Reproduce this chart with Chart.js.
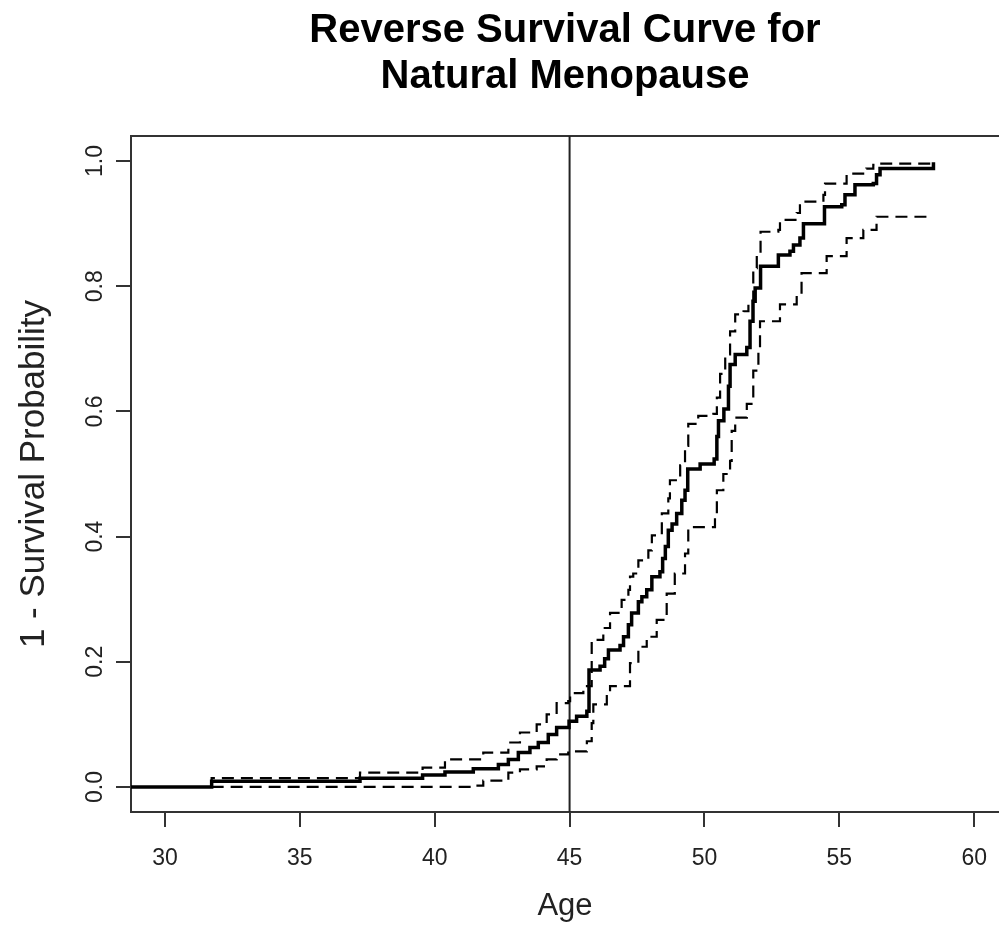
<!DOCTYPE html>
<html>
<head>
<meta charset="utf-8">
<script src="https://cdn.jsdelivr.net/npm/chart.js@4"></script>
<style>
  html, body { margin: 0; padding: 0; background: #fff; overflow: hidden; }
  #wrap { width: 999px; height: 933px; position: relative; }
</style>
</head>
<body>
<div id="wrap"><canvas id="km"></canvas></div>
<script>
// Kaplan-Meier style estimate (1 - S) and its confidence band
const ageEst = [28.74, 31.73, 37.23, 39.55, 40.38, 41.43, 42.36, 42.73, 43.10, 43.53, 43.84, 44.21, 44.52, 44.98, 45.26, 45.64, 45.72, 46.13, 46.30, 46.44, 46.87, 47.00, 47.18, 47.30, 47.55, 47.68, 47.86, 48.05, 48.35, 48.45, 48.55, 48.66, 48.80, 48.97, 49.16, 49.28, 49.38, 49.84, 50.36, 50.46, 50.52, 50.72, 50.89, 50.95, 51.14, 51.57, 51.69, 51.80, 51.88, 52.08, 52.74, 53.17, 53.30, 53.54, 53.67, 54.45, 55.09, 55.21, 55.58, 56.26, 56.38, 56.51, 58.49];
const probEst = [0, 0.009, 0.014, 0.019, 0.024, 0.029, 0.036, 0.044, 0.055, 0.063, 0.071, 0.084, 0.095, 0.105, 0.113, 0.121, 0.187, 0.193, 0.205, 0.219, 0.226, 0.240, 0.259, 0.278, 0.296, 0.304, 0.315, 0.336, 0.344, 0.365, 0.384, 0.410, 0.420, 0.437, 0.458, 0.474, 0.508, 0.516, 0.524, 0.560, 0.585, 0.604, 0.640, 0.675, 0.691, 0.702, 0.744, 0.776, 0.797, 0.832, 0.850, 0.856, 0.866, 0.877, 0.900, 0.927, 0.930, 0.946, 0.962, 0.964, 0.978, 0.988, 0.998];

const ageUpper = [31.73, 31.73, 37.23, 39.55, 40.38, 41.80, 42.73, 43.16, 43.78, 44.15, 44.52, 44.95, 45.02, 45.51, 45.82, 46.25, 46.50, 46.87, 46.93, 47.18, 47.24, 47.36, 47.55, 47.92, 48.05, 48.42, 48.66, 48.72, 49.10, 49.28, 49.40, 49.77, 50.33, 50.46, 50.58, 50.77, 50.95, 51.14, 51.45, 51.63, 51.81, 51.94, 52.08, 52.74, 52.80, 53.42, 53.54, 54.41, 54.47, 55.27, 56.00, 56.26, 56.51, 58.40];
const probUpper = [0, 0.014, 0.023, 0.031, 0.044, 0.055, 0.071, 0.087, 0.100, 0.116, 0.134, 0.137, 0.150, 0.161, 0.235, 0.254, 0.278, 0.283, 0.299, 0.315, 0.336, 0.341, 0.362, 0.378, 0.402, 0.437, 0.461, 0.490, 0.514, 0.545, 0.580, 0.593, 0.596, 0.622, 0.660, 0.691, 0.728, 0.755, 0.760, 0.776, 0.829, 0.850, 0.887, 0.890, 0.906, 0.917, 0.935, 0.946, 0.964, 0.980, 0.988, 0.994, 0.996, 0.996];

const ageLower = [31.73, 41.43, 41.80, 42.73, 43.16, 43.78, 44.15, 44.52, 44.95, 45.64, 45.82, 45.88, 46.38, 46.50, 47.24, 47.55, 47.86, 48.23, 48.60, 48.90, 49.28, 49.40, 50.39, 50.46, 50.70, 50.95, 51.01, 51.14, 51.57, 51.81, 52.00, 52.06, 52.80, 53.42, 53.60, 54.53, 55.27, 55.89, 56.38, 58.40];
const probLower = [0, 0.002, 0.010, 0.023, 0.028, 0.033, 0.044, 0.052, 0.057, 0.073, 0.102, 0.132, 0.145, 0.161, 0.198, 0.224, 0.240, 0.267, 0.309, 0.341, 0.373, 0.415, 0.431, 0.474, 0.500, 0.521, 0.569, 0.590, 0.612, 0.665, 0.697, 0.744, 0.771, 0.787, 0.821, 0.848, 0.877, 0.890, 0.911, 0.914];

const refAge = 45;
const xTicks = [30, 35, 40, 45, 50, 55, 60];
const yTicks = [0, 0.2, 0.4, 0.6, 0.8, 1.0];
const xMin = 28.74, xMax = 60.92;
const yMin = -0.04, yMax = 1.04;

const toPts = (xs, ys) => xs.map((x, i) => ({ x: x, y: ys[i] }));

const ink = '#222';
const fam = "'Liberation Sans', Arial, sans-serif";
const axisFont = { family: fam, size: 23 };

// R-style box: top and bottom rules (the right edge of the box is cut off)
const boxLines = {
  id: 'boxLines',
  beforeDatasetsDraw(chart) {
    const { ctx, chartArea } = chart;
    ctx.save();
    ctx.strokeStyle = '#333';
    ctx.lineWidth = 2;
    ctx.beginPath();
    ctx.moveTo(chartArea.left, chartArea.top);
    ctx.lineTo(chart.width, chartArea.top);
    ctx.moveTo(chartArea.left, chartArea.bottom);
    ctx.lineTo(chart.width, chartArea.bottom);
    ctx.stroke();
    ctx.restore();
  }
};

const kmChart = new Chart(document.getElementById('km').getContext('2d'), {
  type: 'line',
  data: {
    datasets: [{
      label: 'Estimate',
      data: toPts(ageEst, probEst),
      borderColor: '#000',
      borderWidth: 3.5,
      stepped: 'before',
      pointRadius: 0,
      fill: false
    }, {
      label: 'Upper',
      data: toPts(ageUpper, probUpper),
      borderColor: '#000',
      borderWidth: 2.2,
      borderDash: [12, 7],
      stepped: 'before',
      pointRadius: 0,
      fill: false
    }, {
      label: 'Lower',
      data: toPts(ageLower, probLower),
      borderColor: '#000',
      borderWidth: 2.2,
      borderDash: [12, 7],
      stepped: 'before',
      pointRadius: 0,
      fill: false
    }, {
      label: 'Age 45',
      data: [{ x: refAge, y: yMin }, { x: refAge, y: yMax }],
      borderColor: ink,
      borderWidth: 2,
      pointRadius: 0,
      fill: false
    }]
  },
  options: {
    responsive: true,
    maintainAspectRatio: false,
    animation: false,
    layout: { padding: 0 },
    scales: {
      x: {
        type: 'linear',
        min: xMin,
        max: xMax,
        afterBuildTicks: (s) => { s.ticks = xTicks.map(v => ({ value: v })); },
        afterFit: (s) => { s.height = 121; s.paddingLeft = 0; s.paddingRight = 0; },
        border: { display: false },
        grid: { drawOnChartArea: false, drawTicks: true, tickLength: 15, color: '#333', lineWidth: 2 },
        ticks: { color: ink, font: axisFont, padding: 18, maxRotation: 0 },
        title: { display: true, text: 'Age', color: ink, font: { family: fam, size: 31 }, padding: { bottom: 8 } }
      },
      y: {
        type: 'linear',
        min: yMin,
        max: yMax,
        afterBuildTicks: (s) => { s.ticks = yTicks.map(v => ({ value: v })); },
        afterFit: (s) => { s.width = 131; },
        border: { display: true, color: '#333', width: 2 },
        grid: { drawOnChartArea: false, drawTicks: true, tickLength: 15, color: '#333', lineWidth: 2 },
        ticks: { color: ink, font: axisFont, padding: 4, minRotation: 90, maxRotation: 90, crossAlign: 'center',
                 callback: (v) => v.toFixed(1) },
        title: { display: true, text: '1 - Survival Probability', color: ink, font: { family: fam, size: 35 }, padding: { top: 13 } }
      }
    },
    plugins: {
      legend: { display: false },
      tooltip: { enabled: false },
      title: {
        display: true,
        fullSize: false,
        text: ['Reverse Survival Curve for', 'Natural Menopause'],
        color: '#000',
        font: { family: fam, size: 40, weight: 'bold', lineHeight: 1.15 },
        padding: { top: 8, bottom: 36 }
      }
    }
  },
  plugins: [boxLines]
});
</script>
</body>
</html>
